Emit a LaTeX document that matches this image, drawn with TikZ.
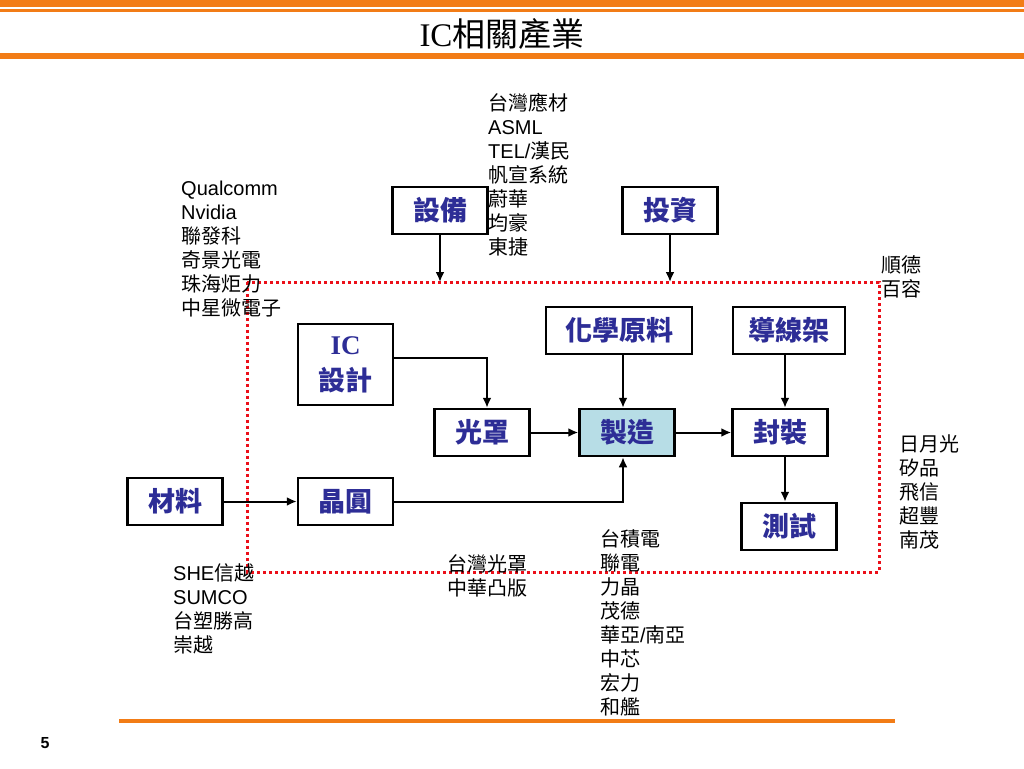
\documentclass[tikz,border=0pt]{standalone}
\usepackage{fontspec}
\setmainfont{Noto Sans CJK TC}
\newfontfamily\lat{Liberation Sans}
\newfontfamily\latserif{Liberation Serif}
\usepackage{tikz}
\usetikzlibrary{positioning}
\usetikzlibrary{arrows.meta}
\definecolor{boxblue}{RGB}{45,45,150}
\definecolor{bandorange}{RGB}{242,124,22}
\definecolor{fabfill}{RGB}{183,221,230}
\definecolor{zonered}{RGB}{235,15,25}

\begin{document}
\begin{tikzpicture}[x=1pt,y=-1pt,>={Latex[length=10pt,width=9pt]},
  box/.style={draw,line width=2.5pt,minimum width=95pt,minimum height=47pt,inner sep=0pt,
    font=\fontsize{27}{30}\selectfont\bfseries,text=boxblue},
  firms/.style={anchor=base west,align=left,inner sep=0pt,font=\fontsize{20}{24}\selectfont},
  flow/.style={->,line width=2pt},
  zone/.style={draw=zonered,line width=3pt,dash pattern=on 3pt off 3pt}]
		\useasboundingbox (0,0) rectangle (1024,768);
		% header bands
		\fill[bandorange] (0,0) rectangle (1024,7);
		\fill[bandorange] (0,9) rectangle (1024,12.5);
		\fill[bandorange] (0,53) rectangle (1024,59);
		\node[font=\fontsize{33}{36}\selectfont] (title) at (502,34) {{\latserif IC}相關產業};
		
		% dotted frame
		\draw[zone] (247,282) rectangle (879,572);
		\coordinate (zonetop) at (0,282);
		
		\node[box] (equip) at (440,210.5) {設備};
		\node[box] (invest) at (670,210.5) {投資};
		\node[box,minimum height=81pt,align=center,font=\fontsize{27}{36}\selectfont\bfseries] (design) at (345.5,364.5) {{\latserif IC}\\設計};
		\node[box,minimum width=146pt] (chem) at (619,330.5) {化學原料};
		\node[box,minimum width=112pt] (frame) at (789,330.5) {導線架};
		\node[box] (mask) at (482,432.5) {光罩};
		\node[box,fill=fabfill] (fab) at (627,432.5) {製造};
		\node[box] (pack) at (780,432.5) {封裝};
		\node[box] (mat) at (175,501.5) {材料};
		\node[box] (wafer) at (345.5,501.5) {晶圓};
		\node[box] (test) at (789,526.5) {測試};
		
		\draw[flow] (equip.south) -- (equip.south |- zonetop);
		\draw[flow] (invest.south) -- (invest.south |- zonetop);
		\draw[flow] ([yshift=6.5pt]design.east) -| ([xshift=5pt]mask.north);
		\draw[flow] (mask.east) -- (fab.west);
		\draw[flow] (fab.east) -- (pack.west);
		\draw[flow] ([xshift=-4pt]chem.south -| fab.north) -- ([xshift=-4pt]fab.north);
		\draw[flow] ([xshift=-4pt]frame.south) -- ([xshift=5pt]pack.north);
		\draw[flow] ([xshift=5pt]pack.south) -- ([xshift=-4pt]test.north);
		\draw[flow] (mat.east) -- (wafer.west);
		\draw[flow] (wafer.east) -| ([xshift=-4pt]fab.south);
		
		% company lists (anchored at the last line)
		\node[firms] (designfirms) at (181,315.5) {{\lat Qualcomm}\\{\lat Nvidia}\\聯發科\\奇景光電\\珠海炬力\\中星微電子};
		\node[firms] (equipfirms) at (488,254.5) {台灣應材\\{\lat ASML}\\{\lat TEL/}漢民\\帆宣系統\\蔚華\\均豪\\東捷};
		\node[firms] (framefirms) at (881,296.5) {順德\\百容};
		\node[firms] (packfirms) at (899,547.5) {日月光\\矽品\\飛信\\超豐\\南茂};
		\node[firms] (matfirms) at (173,652.5) {{\lat SHE}信越\\{\lat SUMCO}\\台塑勝高\\崇越};
		\node[firms] (maskfirms) at (447,595.5) {台灣光罩\\中華凸版};
		\node[firms] (fabfirms) at (600,714.5) {台積電\\聯電\\力晶\\茂德\\華亞{\lat /}南亞\\中芯\\宏力\\和艦};
		
		% footer
		\fill[bandorange] (119,719) rectangle (895,722.5);
		\node[font=\fontsize{16}{18}\selectfont\lat\bfseries] (page) at (45,743) {5};
\end{tikzpicture}
\end{document}
